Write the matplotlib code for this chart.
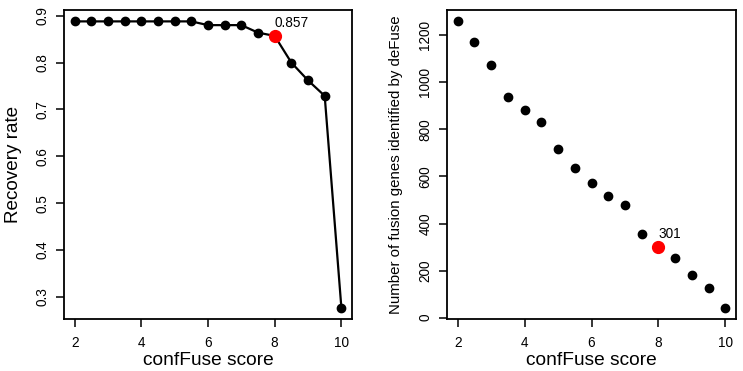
import matplotlib
matplotlib.use("Agg")
import matplotlib.pyplot as plt

plt.rcParams['font.family'] = ['Liberation Sans', 'DejaVu Sans']

scores = [2, 2.5, 3, 3.5, 4, 4.5, 5, 5.5, 6, 6.5, 7, 7.5, 8, 8.5, 9, 9.5, 10]
recovery = [0.888, 0.888, 0.888, 0.888, 0.888, 0.888, 0.888, 0.888, 0.880, 0.880,
            0.880, 0.864, 0.857, 0.800, 0.762, 0.729, 0.277]
n_fusions = [1259, 1170, 1075, 936, 882, 830, 718, 634, 571, 516, 477, 355, 301,
             252, 182, 128, 43]
highlight_score = 8
highlight_recovery = 0.857
highlight_n = 301

x_ticks = [2, 4, 6, 8, 10]
left_yticks = [0.3, 0.4, 0.5, 0.6, 0.7, 0.8, 0.9]
right_yticks = [0, 200, 400, 600, 800, 1000, 1200]

fig = plt.figure(figsize=(7.43, 3.71), dpi=100)
ax1 = fig.add_axes([0.0861, 0.1402, 0.3877, 0.833])
ax2 = fig.add_axes([0.6016, 0.1402, 0.389, 0.833])


def r_limits(vals):
    lo, hi = min(vals), max(vals)
    pad = (hi - lo) * 0.04
    return lo - pad, hi + pad


def style(ax, yticks, yfmt):
    for s in ax.spines.values():
        s.set_linewidth(1.3)
        s.set_color('black')
    ax.set_xticks(x_ticks)
    ax.set_yticks(yticks)
    ax.set_yticklabels([yfmt(v) for v in yticks], rotation=90, va='center')
    ax.tick_params(direction='out', length=6, width=1.1, labelsize=9.8, pad=4.5)
    ax.tick_params(axis='x', pad=6)
    ax.set_xlim(*r_limits(scores))


# Left panel
ax1.plot(scores, recovery, color='black', lw=1.6, marker='o', ms=6, zorder=2)
ax1.plot([highlight_score], [highlight_recovery], 'o', color='red', ms=8.5, zorder=3)
ax1.annotate(f'{highlight_recovery:.3f}', (highlight_score, highlight_recovery),
             xytext=(0, 4.5), textcoords='offset points', ha='left', va='bottom', fontsize=9.8)
ax1.set_ylim(*r_limits(recovery))
style(ax1, left_yticks, lambda v: f'{v:.1f}')
ax1.set_xlabel('confFuse score', fontsize=13.8, labelpad=1.5)
ax1.set_ylabel('Recovery rate', fontsize=13.6, labelpad=9.5)

# Right panel
ax2.plot(scores, n_fusions, 'o', color='black', ms=6, zorder=2)
ax2.plot([highlight_score], [highlight_n], 'o', color='red', ms=8.5, zorder=3)
ax2.annotate(f'{highlight_n}', (highlight_score, highlight_n),
             xytext=(0, 4.5), textcoords='offset points', ha='left', va='bottom', fontsize=9.8)
ax2.set_ylim(*r_limits(n_fusions))
style(ax2, right_yticks, lambda v: f'{v:d}')
ax2.set_xlabel('confFuse score', fontsize=13.8, labelpad=1.5)
ax2.set_ylabel('Number of fusion genes identified by deFuse', fontsize=10.8, labelpad=11)

fig.savefig('out.png', dpi=100)
